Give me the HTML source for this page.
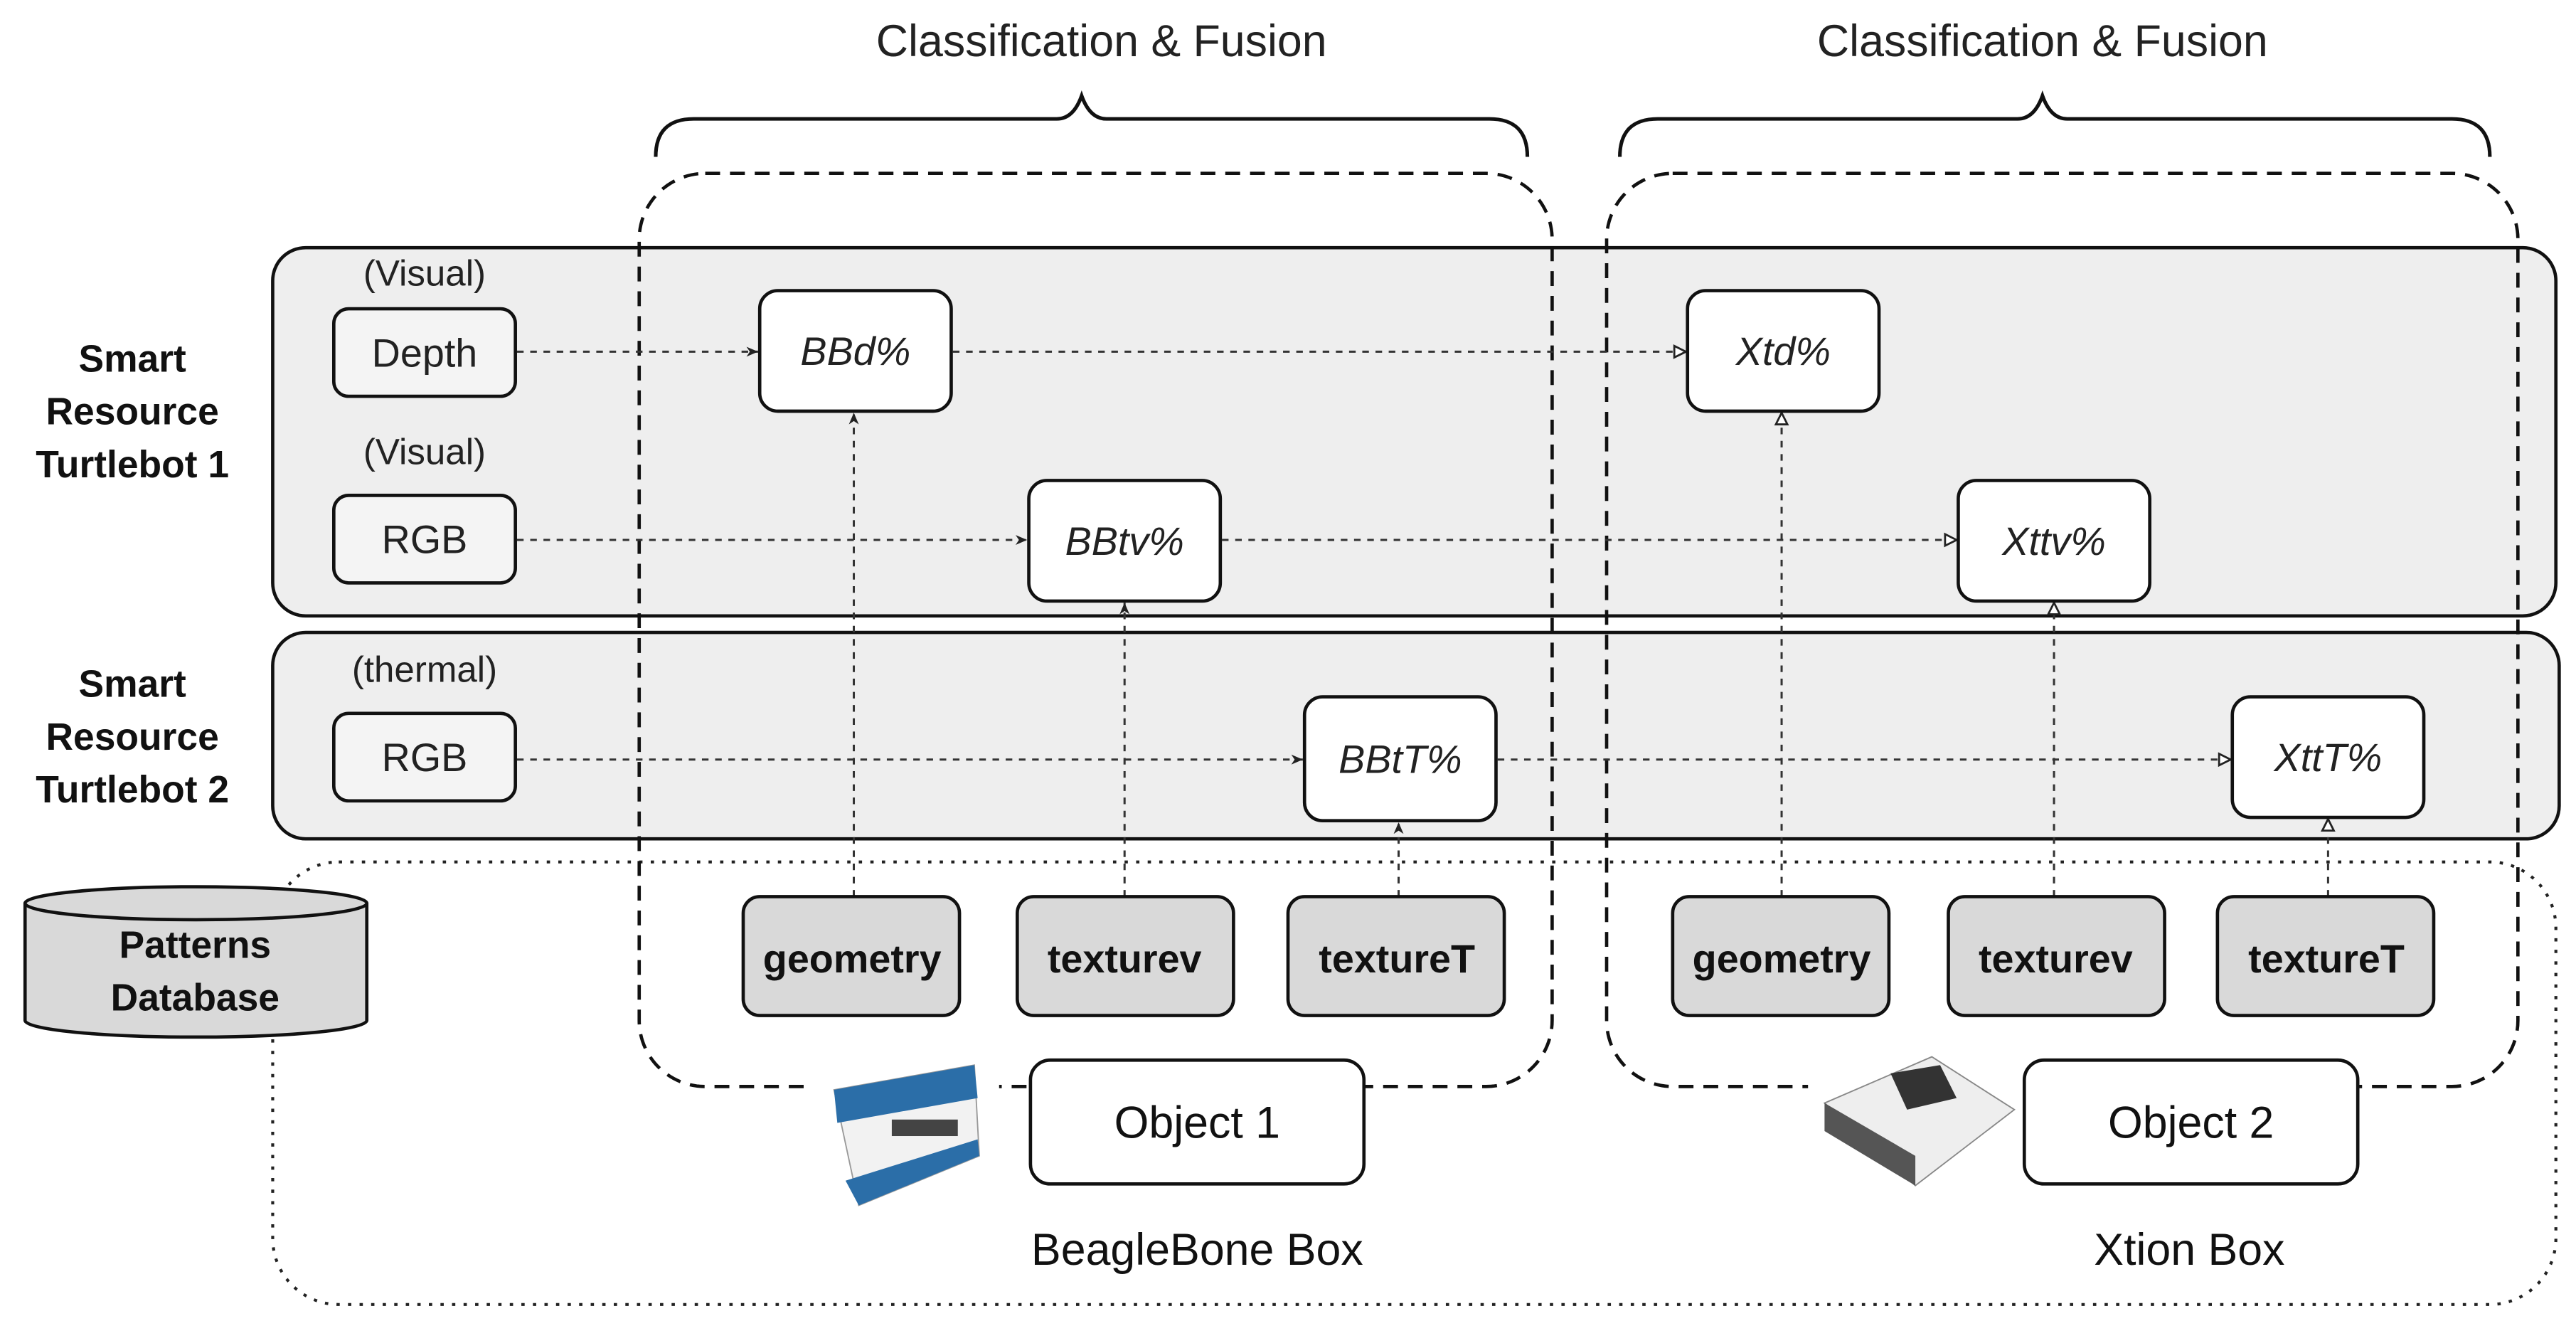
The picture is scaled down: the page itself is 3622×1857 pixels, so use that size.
<!DOCTYPE html>
<html><head><meta charset="utf-8"><style>
html,body{margin:0;padding:0;background:#fff;}
svg{display:block;}
text{font-family:"Liberation Sans",Arial,sans-serif;}
</style></head><body>
<svg width="3622" height="1857" viewBox="0 0 1560 800" xmlns="http://www.w3.org/2000/svg">
<defs>
<marker id="a1" markerWidth="8" markerHeight="8" refX="7" refY="4" orient="auto" markerUnits="userSpaceOnUse"><path d="M0,1 L7,4 L0,7 L2,4 Z" fill="#222"/></marker>
<marker id="a2" markerWidth="9" markerHeight="9" refX="8" refY="4.5" orient="auto" markerUnits="userSpaceOnUse"><path d="M1,1 L8,4.5 L1,8 Z" fill="#fff" stroke="#222" stroke-width="1.2"/></marker>
</defs>
<rect width="1560" height="800" fill="#fff"/>
<!-- titles -->
<text x="667" y="34" font-size="27" text-anchor="middle" fill="#222">Classification &amp; Fusion</text>
<text x="1237" y="34" font-size="27" text-anchor="middle" fill="#222">Classification &amp; Fusion</text>
<!-- braces -->
<path d="M397,95 Q397,72 420,72 L640,72 Q650,72 655,58 Q660,72 670,72 L902,72 Q925,72 925,95" fill="none" stroke="#111" stroke-width="2.2"/>
<path d="M981,95 Q981,72 1004,72 L1222,72 Q1232,72 1237,58 Q1242,72 1252,72 L1485,72 Q1508,72 1508,95" fill="none" stroke="#111" stroke-width="2.2"/>
<!-- big dotted rect -->
<rect x="165" y="522" width="1383" height="268" rx="40" fill="none" stroke="#222" stroke-width="1.8" stroke-dasharray="2,5"/>
<!-- gray panels -->
<rect x="165" y="150" width="1383" height="223" rx="20" fill="#eeeeee" stroke="#111" stroke-width="2"/>
<rect x="165" y="383" width="1385" height="125" rx="20" fill="#eeeeee" stroke="#111" stroke-width="2"/>
<!-- dashed C&F rects -->
<rect x="387" y="105" width="553" height="553" rx="40" fill="none" stroke="#111" stroke-width="2" stroke-dasharray="9,6"/>
<rect x="973" y="105" width="552" height="553" rx="40" fill="none" stroke="#111" stroke-width="2" stroke-dasharray="9,6"/>
<!-- left labels -->
<g font-size="23" font-weight="bold" text-anchor="middle" fill="#111">
<text x="80" y="225">Smart</text><text x="80" y="257">Resource</text><text x="80" y="289">Turtlebot 1</text>
<text x="80" y="422">Smart</text><text x="80" y="454">Resource</text><text x="80" y="486">Turtlebot 2</text>
</g>
<g font-size="22" text-anchor="middle" fill="#222">
<text x="257" y="173">(Visual)</text>
<text x="257" y="281">(Visual)</text>
<text x="257" y="413">(thermal)</text>
</g>
<!-- connectors -->
<g stroke="#333" stroke-width="1.3" stroke-dasharray="4,4" fill="none">
<line x1="313" y1="213" x2="459" y2="213" marker-end="url(#a1)"/>
<line x1="577" y1="213" x2="1021" y2="213" marker-end="url(#a2)"/>
<line x1="313" y1="327" x2="622" y2="327" marker-end="url(#a1)"/>
<line x1="740" y1="327" x2="1185" y2="327" marker-end="url(#a2)"/>
<line x1="313" y1="460" x2="789" y2="460" marker-end="url(#a1)"/>
<line x1="907" y1="460" x2="1351" y2="460" marker-end="url(#a2)"/>
<line x1="517" y1="543" x2="517" y2="250" marker-end="url(#a1)"/>
<line x1="681" y1="543" x2="681" y2="365" marker-end="url(#a1)"/>
<line x1="847" y1="543" x2="847" y2="498" marker-end="url(#a1)"/>
<line x1="1079" y1="543" x2="1079" y2="250" marker-end="url(#a2)"/>
<line x1="1244" y1="543" x2="1244" y2="365" marker-end="url(#a2)"/>
<line x1="1410" y1="543" x2="1410" y2="496" marker-end="url(#a2)"/>
</g>
<!-- source boxes -->
<g fill="#f4f4f4" stroke="#111" stroke-width="2">
<rect x="202" y="187" width="110" height="53" rx="9"/>
<rect x="202" y="300" width="110" height="53" rx="9"/>
<rect x="202" y="432" width="110" height="53" rx="9"/>
</g>
<g font-size="24" text-anchor="middle" fill="#222">
<text x="257" y="222">Depth</text><text x="257" y="335">RGB</text><text x="257" y="467">RGB</text>
</g>
<!-- result boxes -->
<g fill="#fff" stroke="#111" stroke-width="2">
<rect x="460" y="176" width="116" height="73" rx="11"/>
<rect x="623" y="291" width="116" height="73" rx="11"/>
<rect x="790" y="422" width="116" height="75" rx="11"/>
<rect x="1022" y="176" width="116" height="73" rx="11"/>
<rect x="1186" y="291" width="116" height="73" rx="11"/>
<rect x="1352" y="422" width="116" height="73" rx="11"/>
</g>
<g font-size="24" font-style="italic" text-anchor="middle" fill="#222">
<text x="518" y="221">BBd%</text><text x="681" y="336">BBtv%</text><text x="848" y="468">BBtT%</text>
<text x="1080" y="221">Xtd%</text><text x="1244" y="336">Xttv%</text><text x="1410" y="467">XttT%</text>
</g>
<!-- feature boxes -->
<g fill="#d9d9d9" stroke="#111" stroke-width="2">
<rect x="450" y="543" width="131" height="72" rx="10"/>
<rect x="616" y="543" width="131" height="72" rx="10"/>
<rect x="780" y="543" width="131" height="72" rx="10"/>
<rect x="1013" y="543" width="131" height="72" rx="10"/>
<rect x="1180" y="543" width="131" height="72" rx="10"/>
<rect x="1343" y="543" width="131" height="72" rx="10"/>
</g>
<g font-size="24" font-weight="bold" text-anchor="middle" fill="#111">
<text x="516" y="589">geometry</text><text x="681" y="589">texturev</text><text x="846" y="589">textureT</text>
<text x="1079" y="589">geometry</text><text x="1245" y="589">texturev</text><text x="1409" y="589">textureT</text>
</g>
<!-- cylinder -->
<path d="M15,547 L15,618 A103,10 0 0 0 222,618 L222,547" fill="#d9d9d9" stroke="#111" stroke-width="2"/>
<ellipse cx="118.5" cy="547" rx="103.5" ry="10" fill="#d9d9d9" stroke="#111" stroke-width="2"/>
<g font-size="23" font-weight="bold" text-anchor="middle" fill="#111">
<text x="118" y="580">Patterns</text><text x="118" y="612">Database</text>
</g>
<!-- images -->
<g>
<rect x="490" y="640" width="115" height="105" fill="#fff"/>
<path d="M505,660 L590,645 L593,700 L520,730 Z" fill="#f2f2f2" stroke="#999" stroke-width="0.8"/>
<path d="M505,660 L590,645 L592,665 L507,680 Z" fill="#2b6ea8"/>
<path d="M512,715 L592,690 L593,700 L520,730 Z" fill="#2b6ea8"/>
<rect x="540" y="678" width="40" height="10" fill="#444"/>
</g>
<g>
<rect x="1095" y="628" width="133" height="102" fill="#fff"/>
<path d="M1105,668 L1170,640 L1220,672 L1160,718 Z" fill="#eee" stroke="#888" stroke-width="0.8"/>
<path d="M1105,668 L1160,700 L1160,718 L1105,685 Z" fill="#555"/>
<path d="M1145,650 L1175,645 L1185,665 L1155,672 Z" fill="#333"/>
</g>
<!-- object boxes -->
<g fill="#fff" stroke="#111" stroke-width="2">
<rect x="624" y="642" width="202" height="75" rx="12"/>
<rect x="1226" y="642" width="202" height="75" rx="12"/>
</g>
<g font-size="27" text-anchor="middle" fill="#111">
<text x="725" y="689">Object 1</text><text x="1327" y="689">Object 2</text>
<text x="725" y="766">BeagleBone Box</text><text x="1326" y="766">Xtion Box</text>
</g>
</svg>
</body></html>
